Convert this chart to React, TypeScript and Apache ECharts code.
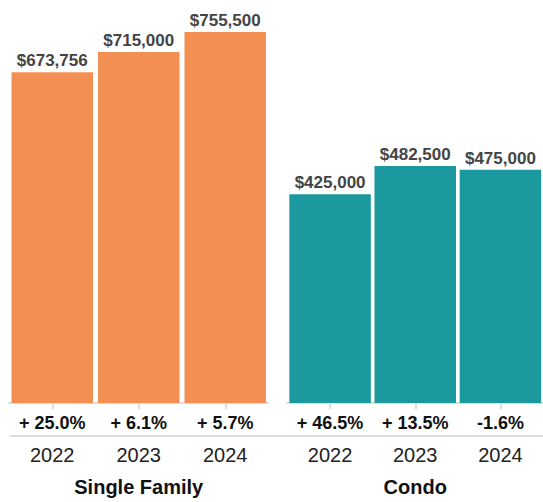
import React, { useEffect, useRef } from "react";
import * as echarts from "echarts";

const years = ["2022", "2023", "2024"];
const singleFamilyPrices = [673756, 715000, 755500];
const condoPrices = [425000, 482500, 475000];
const singleFamilyChanges = ["+ 25.0%", "+ 6.1%", "+ 5.7%"];
const condoChanges = ["+ 46.5%", "+ 13.5%", "-1.6%"];
const groupNames = ["Single Family", "Condo"];
const yMax = 755500;

const FONT = '"Liberation Sans", Arial, Helvetica, sans-serif';
const ORANGE = "#F48F53";
const TEAL = "#1B999F";
const RULE = "#dcdcdc";

export default function App() {
  const ref = useRef<HTMLDivElement>(null);
  useEffect(() => {
    if (!ref.current) return;
    const chart = echarts.init(ref.current, null, { renderer: "svg" });
    const fmt = (v: number) => "$" + v.toLocaleString("en-US");
    const yearAxis = (gridIndex: number, name: string) => ({
      type: "category",
      gridIndex,
      data: years,
      position: "bottom",
      offset: 32,
      name,
      nameLocation: "middle",
      nameGap: 42,
      nameTextStyle: { fontFamily: FONT, fontSize: 20, fontWeight: "bold", color: "#111" },
      axisLine: { show: true, lineStyle: { color: RULE, width: 2 } },
      axisTick: { show: true, alignWithLabel: true, interval: 0, length: 6, lineStyle: { color: RULE, width: 2 } },
      axisLabel: { fontFamily: FONT, fontSize: 20, color: "#222", margin: 10, interval: 0 },
    });
    const changeAxis = (gridIndex: number, data: string[]) => ({
      type: "category",
      gridIndex,
      data,
      position: "bottom",
      offset: 0,
      axisLine: { show: false },
      axisTick: { show: false },
      axisLabel: { fontFamily: FONT, fontSize: 18, fontWeight: "bold", color: "#111", margin: 11, interval: 0, hideOverlap: false },
    });
    const barSeries = (idx: number, data: number[], color: string) => ({
      type: "bar",
      xAxisIndex: idx * 2,
      yAxisIndex: idx,
      data,
      barWidth: 81.5,
      itemStyle: { color },
      label: {
        show: true,
        position: "top",
        distance: 3,
        formatter: (p: any) => fmt(p.value),
        fontFamily: FONT,
        fontSize: 17,
        fontWeight: "bold",
        color: "#444",
      },
    });
    chart.setOption({
      animation: false,
      grid: [
        { left: 9, width: 259.5, top: 32, bottom: 98 },
        { left: 287.5, width: 259.5, top: 32, bottom: 98 },
      ],
      xAxis: [
        yearAxis(0, groupNames[0]),
        changeAxis(0, singleFamilyChanges),
        yearAxis(1, groupNames[1]),
        changeAxis(1, condoChanges),
      ],
      yAxis: [
        { type: "value", gridIndex: 0, min: 0, max: yMax, show: false },
        { type: "value", gridIndex: 1, min: 0, max: yMax, show: false },
      ],
      graphic: [
        {
          type: "line",
          shape: { x1: 10, y1: 436, x2: 543, y2: 436 },
          style: { stroke: RULE, lineWidth: 2 },
          silent: true,
        },
      ],
      series: [
        barSeries(0, singleFamilyPrices, ORANGE),
        barSeries(1, condoPrices, TEAL),
      ],
    });
    return () => chart.dispose();
  }, []);
  return (
    <div
      ref={ref}
      style={{ position: "absolute", left: 0, top: 0, width: 543, height: 502, background: "#fff" }}
    />
  );
}
